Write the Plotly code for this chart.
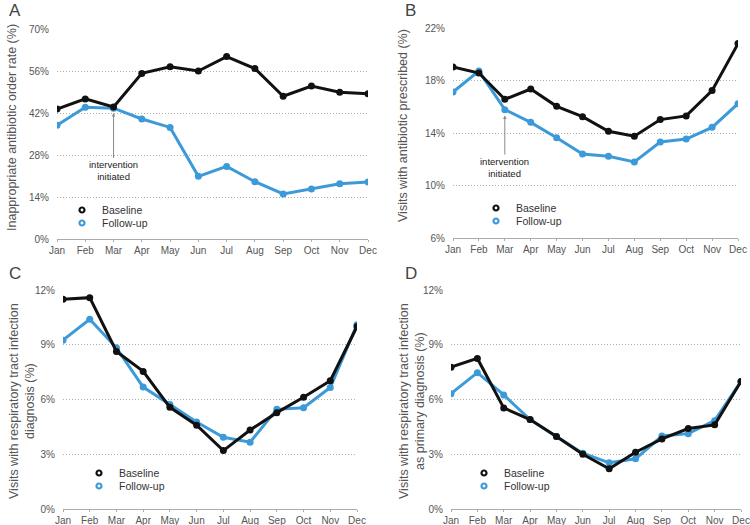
import plotly.graph_objects as go

months = ["Jan", "Feb", "Mar", "Apr", "May", "Jun", "Jul", "Aug", "Sep", "Oct", "Nov", "Dec"]

a_baseline = [43.3, 46.7, 44.0, 55.2, 57.4, 56.0, 60.8, 56.8, 47.6, 51.0, 48.9, 48.4]
a_followup = [37.9, 43.9, 43.6, 40.0, 37.2, 20.9, 24.2, 19.1, 15.0, 16.7, 18.4, 19.0]

b_baseline = [19.03, 18.57, 16.57, 17.35, 16.03, 15.24, 14.13, 13.75, 15.02, 15.30, 17.23, 20.81]
b_followup = [17.12, 18.72, 15.78, 14.81, 13.64, 12.40, 12.22, 11.79, 13.31, 13.54, 14.43, 16.23]

c_baseline = [11.49, 11.58, 8.63, 7.54, 5.57, 4.59, 3.20, 4.33, 5.28, 6.12, 7.03, 10.00]
c_followup = [9.25, 10.40, 8.83, 6.68, 5.72, 4.77, 3.93, 3.66, 5.46, 5.55, 6.66, 10.10]

d_baseline = [7.77, 8.25, 5.54, 4.90, 3.97, 3.00, 2.20, 3.11, 3.84, 4.41, 4.61, 6.99]
d_followup = [6.32, 7.47, 6.25, 4.90, 3.97, 3.06, 2.53, 2.75, 4.00, 4.13, 4.84, 6.99]

a_ticks = [0, 14, 28, 42, 56, 70]
b_ticks = [6, 10, 14, 18, 22]
c_ticks = [0, 3, 6, 9, 12]
d_ticks = [0, 3, 6, 9, 12]

series_names = ["Baseline", "Follow-up"]

titles = {
    "A": "Inappropriate antibiotic order rate (%)",
    "B": "Visits with antibiotic prescribed (%)",
    "C": "Visits with respiratory tract infection<br>diagnosis (%)",
    "D": "Visits with respiratory tract infection<br>as primary diagnosis (%)",
}

BLACK = "#111111"
BLUE = "#3d9ad8"
FONT = "Liberation Sans"
W, H = 750, 525


def fx(px):
    return px / W


def fy(py):
    return 1 - py / H


# panel pixel boxes: (left, right, top, bottom)
boxes = {
    "A": (57, 368, 29, 239),
    "B": (453, 738, 28, 238),
    "C": (63, 357, 290, 509),
    "D": (451, 741, 290, 509),
}
panels = [
    ("A", a_baseline, a_followup, a_ticks, ""),
    ("B", b_baseline, b_followup, b_ticks, "2"),
    ("C", c_baseline, c_followup, c_ticks, "3"),
    ("D", d_baseline, d_followup, d_ticks, "4"),
]

# legend text start x and row centers (pixels)
legend_pos = {"A": (96, 210, 223), "B": (510, 208, 221), "C": (113, 473, 486), "D": (498, 473, 486)}
title_pos = {"A": (12, 128), "B": (403, 126), "C": (22, 401), "D": (412, 401)}
letter_pos = {"A": (7, 11), "B": (403, 11), "C": (7, 273), "D": (403, 273)}

fig = go.Figure()
layout = dict(
    width=W, height=H, margin=dict(l=0, r=0, t=0, b=0, autoexpand=False),
    paper_bgcolor="white", plot_bgcolor="white",
    font=dict(family=FONT, color="#555555", size=10),
    annotations=[],
)

leg_idx = 0
for name, base, foll, ticks, sfx in panels:
    l, r, t, b = boxes[name]
    xa = "x" + sfx
    ya = "y" + sfx
    fig.add_trace(go.Scatter(x=months, y=foll, mode="lines+markers", xaxis=xa, yaxis=ya,
                             line=dict(color=BLUE, width=3), marker=dict(color=BLUE, size=7),
                             showlegend=False, name=series_names[1]))
    fig.add_trace(go.Scatter(x=months, y=base, mode="lines+markers", xaxis=xa, yaxis=ya,
                             line=dict(color=BLACK, width=3), marker=dict(color=BLACK, size=7),
                             showlegend=False, name=series_names[0]))
    tx0, row1, row2 = legend_pos[name]
    for lbl, col, row in ((series_names[0], BLACK, row1), (series_names[1], BLUE, row2)):
        leg_idx += 1
        leg = "legend" if leg_idx == 1 else f"legend{leg_idx}"
        fig.add_trace(go.Scatter(x=[None], y=[None], mode="markers", xaxis=xa, yaxis=ya,
                                 name=lbl, legend=leg,
                                 marker=dict(symbol="circle-open", color=col, size=5,
                                             line=dict(width=2.2, color=col))))
        layout[leg] = dict(x=fx(tx0 - 34), y=fy(row), xanchor="left", yanchor="middle",
                           bgcolor="rgba(0,0,0,0)",
                           font=dict(size=10.5, color="#333333", family=FONT),
                           itemwidth=30, tracegroupgap=0)
    layout["xaxis" + sfx] = dict(
        domain=[fx(l), fx(r)], anchor=ya, range=[0, 11], type="category",
        showgrid=False, zeroline=False, showline=True, linecolor="#aaaaaa", linewidth=1,
        ticks="outside", ticklen=2, tickcolor="#aaaaaa", tickfont=dict(size=10, color="#555555"),
        fixedrange=True, automargin=False,
    )
    layout["yaxis" + sfx] = dict(
        domain=[fy(b), fy(t)], anchor=xa, range=[ticks[0], ticks[-1]],
        tickvals=ticks, ticktext=[f"{v}%" for v in ticks],
        showgrid=True, gridcolor="#b0b0b0", griddash="1px,2px", gridwidth=1,
        zeroline=False, showline=False, ticks="", ticklabelstandoff=7,
        tickfont=dict(size=10, color="#555555"), fixedrange=True, automargin=False,
    )
    tx, ty = title_pos[name]
    layout["annotations"].append(dict(
        text=titles[name], x=fx(tx), y=fy(ty), xref="paper", yref="paper",
        xanchor="center", yanchor="middle", textangle=-90, showarrow=False,
        font=dict(size=12.5, color="#555555", family=FONT)))
    px, py = letter_pos[name]
    layout["annotations"].append(dict(
        text=name, x=fx(px), y=fy(py), xref="paper", yref="paper",
        xanchor="left", yanchor="middle", showarrow=False,
        font=dict(size=17, color="#444444", family=FONT)))

# intervention arrows (panels A and B) pointing at March follow-up value
for sfx, foll, offs, ay in (("", a_followup, 1.6, 58), ("2", b_followup, 0.45, 52)):
    layout["annotations"].append(dict(
        text="intervention<br>initiated", x=months[2], y=foll[2] - offs,
        xref="x" + sfx, yref="y" + sfx, showarrow=True, ax=0, ay=ay,
        arrowhead=2, arrowsize=0.7, arrowwidth=1, arrowcolor="#888888",
        font=dict(size=9.5, color="#222222", family=FONT), align="center"))

fig.update_layout(**layout)
fig.write_html(
    "out.html",
    config={"displayModeBar": False},
    post_script="document.body.style.margin='0px';document.body.style.overflow='hidden';",
)
